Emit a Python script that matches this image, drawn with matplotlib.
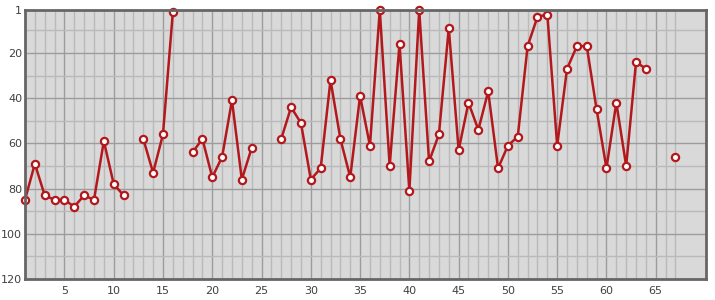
import numpy as np
import matplotlib
matplotlib.use("Agg")
import matplotlib.pyplot as plt

# ── Data ─────────────────────────────────────────────────────────────────────
NAN = np.nan
positions = list(range(1, 68))
ranks = [85, 69, 83, 85, 85, 88, 83, 85, 59, 78,
         83, NAN, 58, 73, 56, 2, NAN, 64, 58, 75,
         66, 41, 76, 62, NAN, NAN, 58, 44, 51, 76,
         71, 32, 58, 75, 39, 61, 1, 70, 16, 81,
         1, 68, 56, 9, 63, 42, 54, 37, 71, 61,
         57, 17, 4, 3, 61, 27, 17, 17, 45, 71,
         42, 70, 24, 27, NAN, NAN, 66]

y_major = [1, 20, 40, 60, 80, 100, 120]
y_minor = [10, 30, 50, 70, 90, 110]
x_major = [5, 10, 15, 20, 25, 30, 35, 40, 45, 50, 55, 60, 65]

# ── Style ────────────────────────────────────────────────────────────────────
RED = "#b3191c"
BG = "#d9d9d9"
GRID_MAJ = "#9c9c9c"
GRID_MIN = "#bababa"
FRAME = "#666666"
TXT = "#404040"

plt.rcParams.update({
    "font.family": "DejaVu Sans",
    "font.size": 8,
})

fig = plt.figure(figsize=(7.15, 3.0), dpi=100, facecolor="white")
ax = fig.add_axes([25 / 715, 1 - 279 / 300, 681 / 715, 269 / 300])
ax.set_facecolor(BG)

# grid lines drawn by hand so they stop at the last position
for x in positions:
    ax.axvline(x, color=GRID_MAJ if x % 5 == 0 else GRID_MIN, lw=1, zorder=1)
for y in y_minor:
    ax.axhline(y, color=GRID_MIN, lw=1, zorder=1)
for y in y_major:
    ax.axhline(y, color=GRID_MAJ, lw=1, zorder=1)

ax.plot(positions, ranks, color=RED, lw=1.8, zorder=3, clip_on=False)
ax.plot(positions, ranks, ls="none", marker="o", ms=5.2, mfc="white",
        mec=RED, mew=1.6, zorder=4, clip_on=False)

ax.set_xlim(1, 70.1)
ax.set_ylim(120, 1)
ax.set_xticks(x_major)
ax.set_yticks(y_major)
ax.tick_params(length=0, colors=TXT, labelsize=8)
ax.tick_params(axis="x", pad=5)
ax.tick_params(axis="y", pad=2)

for s in ax.spines.values():
    s.set_color(FRAME)
    s.set_linewidth(2)
    s.set_zorder(5)

fig.savefig("out.png", dpi=100, facecolor="white")
